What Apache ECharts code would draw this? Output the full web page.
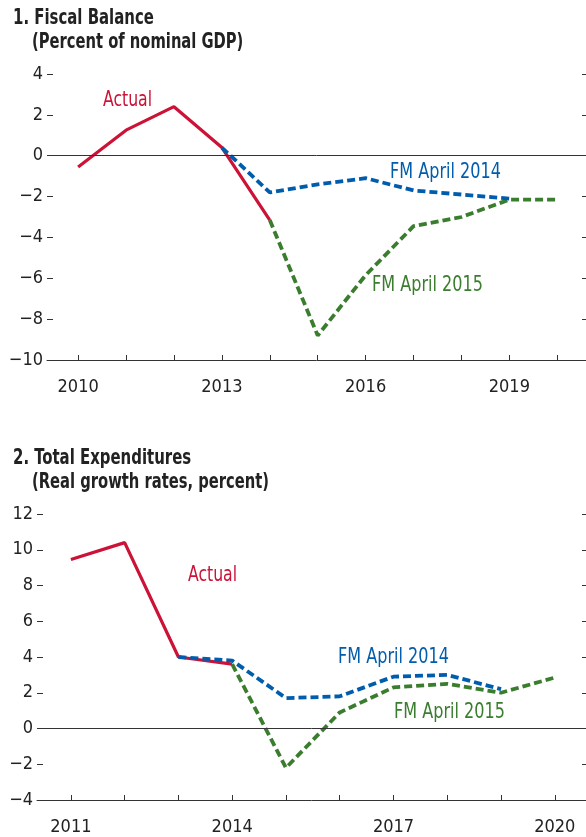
<!DOCTYPE html>
<html>
<head>
<meta charset="utf-8">
<script src="https://cdn.jsdelivr.net/npm/echarts@6/dist/echarts.min.js"></script>
<style>
html,body{margin:0;padding:0;background:#fff;}
#chart{width:586px;height:837px;}
</style>
</head>
<body>
<div id="chart"></div>
<script>
// ---- Panel 1: Fiscal Balance (Percent of nominal GDP)
const p1ActualYears = [2010, 2011, 2012, 2013, 2014];
const p1ActualValues = [-0.55, 1.25, 2.4, 0.4, -3.15];
const p1Fm2014Years = [2013, 2014, 2015, 2016, 2017, 2018, 2019];
const p1Fm2014Values = [0.4, -1.8, -1.4, -1.1, -1.7, -1.9, -2.1];
const p1Fm2015Years = [2014, 2015, 2016, 2017, 2018, 2019, 2020];
const p1Fm2015Values = [-3.15, -8.8, -5.85, -3.45, -3.0, -2.15, -2.15];
const p1TickYears = [2010, 2011, 2012, 2013, 2014, 2015, 2016, 2017, 2018, 2019, 2020];
const p1LabelYears = [2010, 2013, 2016, 2019];

// ---- Panel 2: Total Expenditures (Real growth rates, percent)
const p2ActualYears = [2011, 2012, 2013, 2014];
const p2ActualValues = [9.45, 10.4, 4.0, 3.6];
const p2Fm2014Years = [2013, 2014, 2015, 2016, 2017, 2018, 2019];
const p2Fm2014Values = [4.0, 3.8, 1.7, 1.8, 2.9, 3.0, 2.2];
const p2Fm2015Years = [2014, 2015, 2016, 2017, 2018, 2019, 2020];
const p2Fm2015Values = [3.6, -2.2, 0.9, 2.3, 2.5, 2.0, 2.85];
const p2TickYears = [2011, 2012, 2013, 2014, 2015, 2016, 2017, 2018, 2019, 2020];
const p2LabelYears = [2011, 2014, 2017, 2020];

const RED = '#CC1236', BLUE = '#005DAD', GREEN = '#3A7D2E';
const FONT = '"DejaVu Sans Condensed", "Liberation Sans Narrow", "Roboto", sans-serif';
const pairs = (xs, ys) => xs.map((x, i) => [x, ys[i]]);
const fmt = v => (v < 0 ? '\u2212' + Math.abs(v) : String(v));

function xAxisFor(gi, min, max, ticks, labels) {
  return {
    type: 'value', gridIndex: gi, min: min, max: max,
    axisLine: { show: true, onZero: false, lineStyle: { color: '#333', width: 1 } },
    axisTick: { show: true, inside: true, length: 5, customValues: ticks, lineStyle: { color: '#333' } },
    axisLabel: { show: true, customValues: labels, margin: 18, color: '#222', fontFamily: FONT, fontSize: 18, formatter: v => String(v) },
    splitLine: { show: false }
  };
}
function yAxisFor(gi, min, max, pos) {
  const left = pos === 'left';
  return {
    type: 'value', gridIndex: gi, min: min, max: max, interval: 2, position: pos,
    axisLine: { show: false },
    axisTick: { show: true, inside: true, length: left ? 6 : 4, lineStyle: { color: '#333' } },
    axisLabel: { show: left, margin: 4, color: '#222', fontFamily: FONT, fontSize: 18, formatter: fmt },
    splitLine: { show: false }
  };
}
function line(xi, yi, data, color, dashed, z) {
  return {
    type: 'line', xAxisIndex: xi, yAxisIndex: yi, data: data, symbol: 'none', silent: true, z: z,
    lineStyle: { color: color, width: dashed ? 3.8 : 3.2, type: dashed ? [8, 4] : 'solid', cap: 'butt' },
    animation: false
  };
}
function zeroLine(xi, yi) {
  return {
    type: 'line', xAxisIndex: xi, yAxisIndex: yi, data: [], silent: true, z: 1,
    markLine: { silent: true, symbol: 'none', label: { show: false }, lineStyle: { color: '#333', width: 1, type: 'solid' }, data: [{ yAxis: 0 }], animation: false }
  };
}

const chart = echarts.init(document.getElementById('chart'), null, { renderer: 'canvas' });
const txt = (t, x, y, c, bold, sx) => ({
  type: 'text', x: x, y: y, scaleX: sx,
  style: { text: t, fill: c, font: (bold ? 'bold ' : '') + '21px ' + FONT, textVerticalAlign: 'top', textAlign: 'left' }
});

chart.setOption({
  animation: false,
  backgroundColor: '#fff',
  grid: [
    { left: 47, right: 0, top: 74, height: 286 },
    { left: 37, right: 0, top: 514, height: 286 }
  ],
  xAxis: [
    xAxisFor(0, 2009.35, 2020.6, p1TickYears, p1LabelYears),
    xAxisFor(1, 2010.37, 2020.58, p2TickYears, p2LabelYears)
  ],
  yAxis: [
    yAxisFor(0, -10, 4, 'left'),
    yAxisFor(0, -10, 4, 'right'),
    yAxisFor(1, -4, 12, 'left'),
    yAxisFor(1, -4, 12, 'right')
  ],
  series: [
    zeroLine(0, 0),
    line(0, 0, pairs(p1ActualYears, p1ActualValues), RED, false, 2),
    line(0, 0, pairs(p1Fm2015Years, p1Fm2015Values), GREEN, true, 3),
    line(0, 0, pairs(p1Fm2014Years, p1Fm2014Values), BLUE, true, 4),
    zeroLine(1, 2),
    line(1, 2, pairs(p2ActualYears, p2ActualValues), RED, false, 2),
    line(1, 2, pairs(p2Fm2015Years, p2Fm2015Values), GREEN, true, 3),
    line(1, 2, pairs(p2Fm2014Years, p2Fm2014Values), BLUE, true, 4)
  ],
  graphic: [
    txt('1. Fiscal Balance', 13, 8, '#222', true, 0.79),
    txt('(Percent of nominal GDP)', 32, 32, '#222', true, 0.78),
    txt('Actual', 103, 90, RED, false, 0.83),
    txt('FM April 2014', 390, 162, BLUE, false, 0.85),
    txt('FM April 2015', 372, 275, GREEN, false, 0.85),
    txt('2. Total Expenditures', 13, 448, '#222', true, 0.79),
    txt('(Real growth rates, percent)', 32, 472, '#222', true, 0.78),
    txt('Actual', 188, 565, RED, false, 0.83),
    txt('FM April 2014', 338, 647, BLUE, false, 0.85),
    txt('FM April 2015', 394, 702, GREEN, false, 0.85)
  ]
});
</script>
</body>
</html>
